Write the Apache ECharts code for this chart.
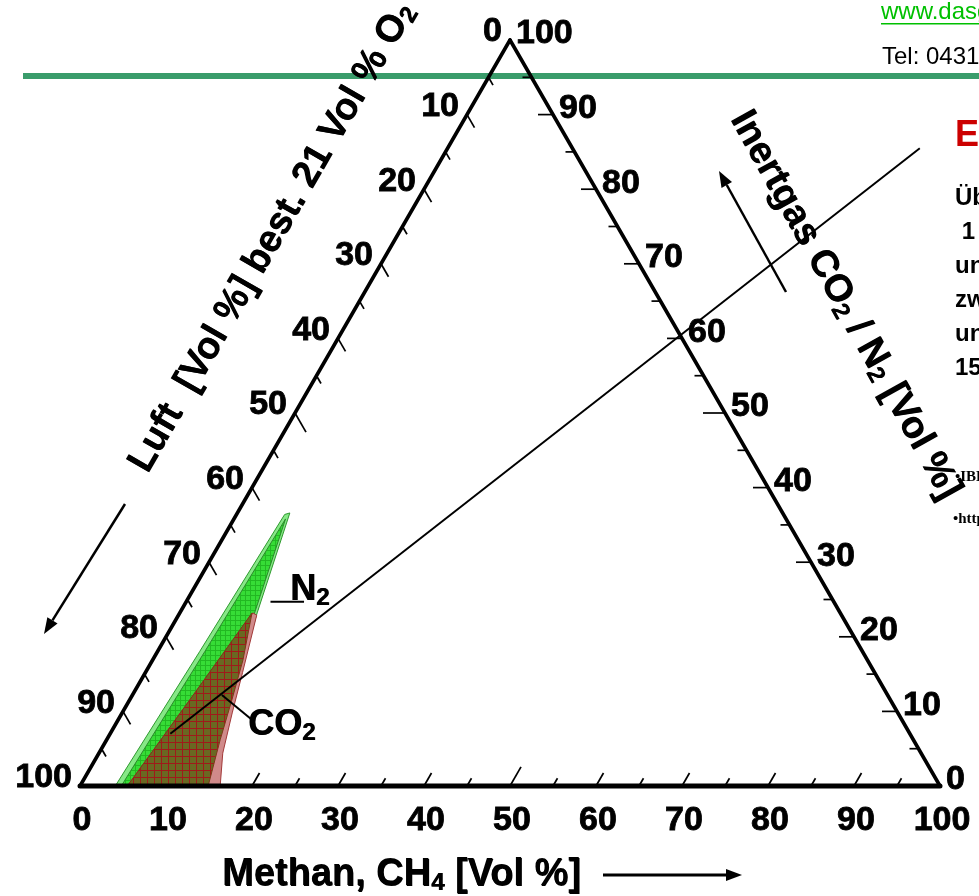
<!DOCTYPE html>
<html><head><meta charset="utf-8">
<script src="https://cdn.jsdelivr.net/npm/echarts@6/dist/echarts.min.js"></script>
<style>html,body{margin:0;padding:0;background:#fff;overflow:hidden}#c{width:979px;height:896px}</style>
</head><body><div id="c"></div>
<script>
// ---------- data (ternary points: [methane %, inert gas %]; air = 100 - methane - inert) ----------
const corners = [[0, 0], [100, 0], [0, 100]];
const tickValues = [5,10,15,20,25,30,35,40,45,50,55,60,65,70,75,80,85,90,95];
const labelValues = [0,10,20,30,40,50,60,70,80,90,100];
// explosion range with N2 as inert gas (outer band and inner range)
const n2Outer = [[4.1,0],[4.9,18],[5.6,36.4],[6.1,36.6],[9.0,23.2],[11.0,15],[12.5,9.8],[14.2,4.4],[16.0,0]];
const n2Inner = [[4.8,0],[5.5,18],[6.0,35.8],[8.7,23.2],[10.8,15],[12.3,9.8],[14.0,4.4],[15.6,0]];
// explosion range with CO2 as inert gas
const co2Outer = [[5.5,0],[7.0,11.6],[8.5,23.2],[9.1,22.9],[11.3,15.2],[12.8,9.8],[14.4,4.4],[16.3,0]];
const co2Inner = [[5.5,0],[7.0,11.6],[8.4,23.2],[10.5,16.9],[11.9,11.5],[13.2,6.2],[14.9,0]];
// straight mixing line and label leader lines
const mixLine = [[7.0,7.0],[54.9,85.5]];
const n2Leader = [[9.8,24.7],[13.7,24.7]];
const co2Leader = [[10.4,12.2],[15.6,8.85]];

const SQ = Math.sqrt(3) / 2;
function tern(m, i) { return [m + i / 2, i * SQ]; }
const F = '"Liberation Sans", Arial, Helvetica, sans-serif';

function gridPattern(size, bg, line) {
  const c = document.createElement('canvas');
  c.width = size; c.height = size;
  const g = c.getContext('2d');
  g.fillStyle = bg; g.fillRect(0, 0, size, size);
  g.fillStyle = line; g.fillRect(0, 0, size, 1); g.fillRect(0, 0, 1, size);
  return { image: c, repeat: 'repeat' };
}

function polySeries(pts, fill, stroke, z) {
  return {
    type: 'custom', z: z, clip: false, silent: true,
    data: pts.map(p => tern(p[0], p[1])),
    encode: { x: 0, y: 1 },
    renderItem: function (params, api) {
      if (params.dataIndex !== 0) return null;
      const points = pts.map(p => api.coord(tern(p[0], p[1])));
      return { type: 'polygon', shape: { points: points }, style: { fill: fill, stroke: stroke, lineWidth: 1 } };
    }
  };
}
function lineSeries(pts, width, z) {
  return {
    type: 'line', z: z, clip: false, silent: true, symbol: 'none',
    data: pts.map(p => tern(p[0], p[1])),
    lineStyle: { color: '#000', width: width }
  };
}

// ticks and labels built from the value arrays
const tickData = [];
tickValues.forEach(v => {
  tickData.push(tern(v, 0).concat([0, v]));          // methane (bottom)
  tickData.push(tern(0, 100 - v).concat([1, v]));    // air (left)
  tickData.push(tern(100 - v, v).concat([2, v]));    // inert (right)
});
const labelData = [];
labelValues.forEach(v => {
  labelData.push(tern(v, 0).concat([0, v]));
  labelData.push(tern(0, 100 - v).concat([1, v]));
  labelData.push(tern(100 - v, v).concat([2, v]));
});
const TICK_DIR = [[0.5, -0.866], [0.5, 0.866], [-1, 0]];
const LABEL_OFF = [[2, 35, 'center'], [-8, -8, 'right'], [6, -6, 'left']];

const frameSeries = {
  type: 'custom', z: 8, clip: false, silent: true,
  data: corners.map(p => tern(p[0], p[1])),
  encode: { x: 0, y: 1 },
  renderItem: function (params, api) {
    if (params.dataIndex !== 0) return null;
    const P = corners.map(p => api.coord(tern(p[0], p[1])));
    return { type: 'group', children: [
      { type: 'line', shape: { x1: P[0][0], y1: P[0][1], x2: P[1][0], y2: P[1][1] }, style: { stroke: '#000', lineWidth: 5, lineCap: 'round' } },
      { type: 'line', shape: { x1: P[0][0], y1: P[0][1], x2: P[2][0], y2: P[2][1] }, style: { stroke: '#000', lineWidth: 3.6, lineCap: 'round' } },
      { type: 'line', shape: { x1: P[1][0], y1: P[1][1], x2: P[2][0], y2: P[2][1] }, style: { stroke: '#000', lineWidth: 3.6, lineCap: 'round' } }
    ] };
  }
};
const tickSeries = {
  type: 'custom', z: 1, clip: false, silent: true, data: tickData, encode: { x: 0, y: 1 },
  renderItem: function (params, api) {
    const p = api.coord([api.value(0), api.value(1)]);
    const ax = api.value(2), v = api.value(3);
    const len = v === 50 ? 22 : (v % 10 === 0 ? 15 : 9);
    const d = TICK_DIR[ax];
    return { type: 'line', shape: { x1: p[0], y1: p[1], x2: p[0] + d[0] * len, y2: p[1] + d[1] * len }, style: { stroke: '#000', lineWidth: 1.7 } };
  }
};
const labelSeries = {
  type: 'custom', z: 9, clip: false, silent: true, data: labelData, encode: { x: 0, y: 1 },
  renderItem: function (params, api) {
    const p = api.coord([api.value(0), api.value(1)]);
    const ax = api.value(2), v = api.value(3);
    const o = LABEL_OFF[ax];
    return { type: 'text', x: p[0] + o[0], y: p[1] + o[1], style: {
      text: String(v), fontSize: 34, fontWeight: 'bold', fontFamily: F, fill: '#000',
      stroke: '#000', lineWidth: 0.8,
      align: o[2], textAlign: o[2], verticalAlign: 'middle', textVerticalAlign: 'middle' } };
  }
};

const richStyle = function (size, sub) {
  return {
    m: { fontSize: size, fontWeight: 'bold', fontFamily: F, lineHeight: 40, fill: '#000', color: '#000' },
    s: { fontSize: sub, fontWeight: 'bold', fontFamily: F, lineHeight: 16, verticalAlign: 'bottom', fill: '#000', color: '#000' }
  };
};
function rtext(x, y, rot, str, size, sub, align) {
  return { type: 'text', x: x, y: y, rotation: rot, z: 100, silent: true, style: {
    text: str, rich: richStyle(size, sub), fontSize: size, fontWeight: 'bold', fontFamily: F, fill: '#000',
    align: align, textAlign: align, verticalAlign: 'middle', textVerticalAlign: 'middle' } };
}
// draw a title twice with a sub-pixel shift so that it looks as heavy as the original
function heavy(x, y, rot, str, size, sub, align) {
  return [rtext(x, y, rot, str, size, sub, align), rtext(x + 0.7, y + 0.3, rot, str, size, sub, align)];
}
function ptext(x, y, str, size, weight, color, family) {
  return { type: 'text', x: x, y: y, z: 100, silent: true, style: {
    text: str, fontSize: size, fontWeight: weight, fontFamily: family || F, fill: color,
    align: 'left', textAlign: 'left', verticalAlign: 'middle', textVerticalAlign: 'middle' } };
}
function arrow(x1, y1, x2, y2, w) {
  const dx = x2 - x1, dy = y2 - y1, L = Math.sqrt(dx * dx + dy * dy);
  const ux = dx / L, uy = dy / L, hl = 16, hw = 6;
  const bx = x2 - ux * hl, by = y2 - uy * hl;
  return { type: 'group', z: 100, silent: true, children: [
    { type: 'line', shape: { x1: x1, y1: y1, x2: bx, y2: by }, style: { stroke: '#000', lineWidth: w } },
    { type: 'polygon', shape: { points: [[x2, y2], [bx - uy * hw, by + ux * hw], [bx + uy * hw, by - ux * hw]] }, style: { fill: '#000' } }
  ] };
}

const chart = echarts.init(document.getElementById('c'), null, { renderer: 'canvas' });
chart.setOption({
  animation: false,
  backgroundColor: '#ffffff',
  grid: { left: 80, right: 39, top: 40, bottom: 110 },
  xAxis: { type: 'value', min: 0, max: 100, show: false },
  yAxis: { type: 'value', min: 0, max: 100 * SQ, show: false },
  series: [
    tickSeries,
    polySeries(n2Outer, '#86e886', '#2f9a2f', 2),
    polySeries(n2Inner, gridPattern(5, '#36dc36', '#22b822'), '#2a8a2a', 3),
    polySeries(co2Outer, '#d08a8a', '#a33a3a', 4),
    polySeries(co2Inner, gridPattern(7, '#6a6822', '#a01a1a'), '#7a3a18', 5),
    frameSeries, labelSeries,
    lineSeries(mixLine, 2, 10),
    lineSeries(n2Leader, 2, 10),
    lineSeries(co2Leader, 2, 10)
  ],
  graphic: { elements: [
    { type: 'rect', z: -10, silent: true, shape: { x: 23, y: 73, width: 960, height: 6 }, style: { fill: '#3a9c6b' } }
  ].concat(
    heavy(272, 237, Math.PI / 3, '{m|Luft  [Vol %] best. 21 Vol % O}{s|2}', 38, 24, 'center'),
    heavy(845, 305, -61 * Math.PI / 180, '{m|Inertgas CO}{s|2}{m| / N}{s|2}{m| [Vol %]}', 38, 24, 'center'),
    heavy(222, 875, 0, '{m|Methan, CH}{s|4}{m| [Vol %]}', 38, 24, 'left'),
    heavy(290, 590, 0, '{m|N}{s|2}', 36, 24, 'left'),
    heavy(248, 725, 0, '{m|CO}{s|2}', 36, 24, 'left'),
    [
    arrow(603, 875, 742, 875, 3),
    arrow(125, 504, 44, 634, 2.5),
    arrow(786, 292, 719, 171, 2.5),
    ptext(881, 12, 'www.dasgas.de', 24, 'normal', '#00c000'),
    { type: 'rect', z: 100, silent: true, shape: { x: 881, y: 23, width: 100, height: 1.5 }, style: { fill: '#00c000' } },
    ptext(882, 57, 'Tel: 0431 / 123456', 24, 'normal', '#000'),
    ptext(955, 136, 'Explosionsbereich', 36, 'bold', '#cc0000'),
    ptext(955, 198, 'Über', 24, 'bold', '#000'),
    ptext(955, 232, ' 1 Vol %', 24, 'bold', '#000'),
    ptext(955, 266, 'und', 24, 'bold', '#000'),
    ptext(955, 300, 'zwischen', 24, 'bold', '#000'),
    ptext(955, 334, 'und', 24, 'bold', '#000'),
    ptext(955, 368, '15 Vol %', 24, 'bold', '#000'),
    ptext(955, 477, '•IBExU', 15, 'bold', '#000', '"Liberation Serif", "Times New Roman", serif'),
    ptext(953, 519, '•http://www', 15, 'bold', '#000', '"Liberation Serif", "Times New Roman", serif')
  ]) }
});
</script></body></html>
